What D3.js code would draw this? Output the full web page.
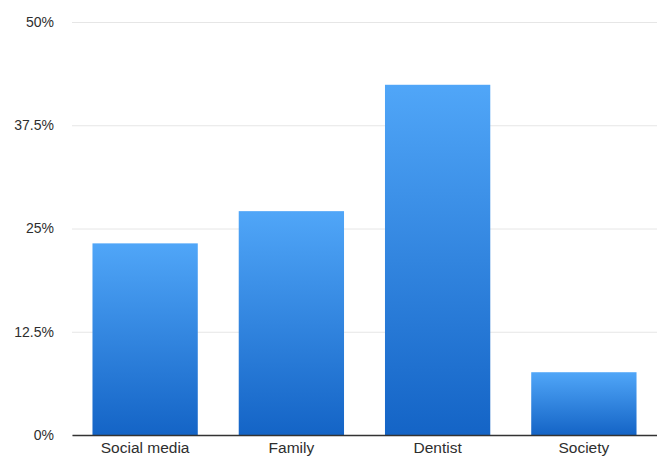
<!DOCTYPE html>
<html>
<head>
<meta charset="utf-8">
<script src="https://cdn.jsdelivr.net/npm/d3@7"></script>
<style>
  html, body { margin: 0; padding: 0; background: #fff; }
  svg { display: block; font-family: "Liberation Sans", Arial, Helvetica, sans-serif; }
</style>
</head>
<body>
<svg id="chart" width="657" height="463"></svg>
<script>
const categories = ["Social media", "Family", "Dentist", "Society"];
const values = [23.2, 27.1, 42.4, 7.6];
const tickValues = [0, 12.5, 25, 37.5, 50];
const tickLabels = ["0%", "12.5%", "25%", "37.5%", "50%"];

const svg = d3.select("#chart");
const W = 657, H = 463;
const margin = { top: 22, right: 0, bottom: 28, left: 72 };

const x = d3.scaleBand()
  .domain(categories)
  .range([margin.left, W - margin.right])
  .paddingInner(0.28)
  .paddingOuter(0.14);

const y = d3.scaleLinear()
  .domain([0, 50])
  .range([H - margin.bottom, margin.top]);

const defs = svg.append("defs");
const grad = defs.append("linearGradient")
  .attr("id", "barGrad")
  .attr("x1", 0).attr("x2", 0)
  .attr("y1", 0).attr("y2", 1);
grad.append("stop").attr("offset", "0%").attr("stop-color", "#50a6f8");
grad.append("stop").attr("offset", "100%").attr("stop-color", "#1464c6");

// gridlines
const grid = svg.append("g")
  .attr("transform", `translate(${margin.left},0)`)
  .call(d3.axisLeft(y).tickValues(tickValues).tickSize(-(W - margin.left - margin.right)).tickFormat(""));
grid.select(".domain").remove();
grid.selectAll("line").attr("stroke", "#e6e6e6").attr("stroke-width", 1);

// y labels
const yAx = svg.append("g")
  .attr("transform", `translate(${margin.left - 15},0)`)
  .call(d3.axisLeft(y).tickValues(tickValues).tickSize(0).tickFormat((d, i) => tickLabels[i]));
yAx.select(".domain").remove();
yAx.selectAll("text")
  .attr("font-size", 14)
  .attr("fill", "#2e2e2e")
  .attr("font-family", "'Liberation Sans', Arial, sans-serif");

// bars
svg.append("g").selectAll("rect")
  .data(values)
  .join("rect")
  .attr("x", (d, i) => x(categories[i]))
  .attr("y", d => y(d))
  .attr("width", x.bandwidth())
  .attr("height", d => y(0) - y(d))
  .attr("fill", "url(#barGrad)");

// x axis
const xAx = svg.append("g")
  .attr("transform", `translate(0,${y(0)})`)
  .call(d3.axisBottom(x).tickSize(0).tickSizeOuter(0).tickPadding(7));
xAx.select(".domain").attr("stroke", "#333").attr("stroke-width", 1.5);
xAx.selectAll("text")
  .attr("font-size", 15.5)
  .attr("fill", "#2e2e2e")
  .attr("font-family", "'Liberation Sans', Arial, sans-serif");
</script>
</body>
</html>
